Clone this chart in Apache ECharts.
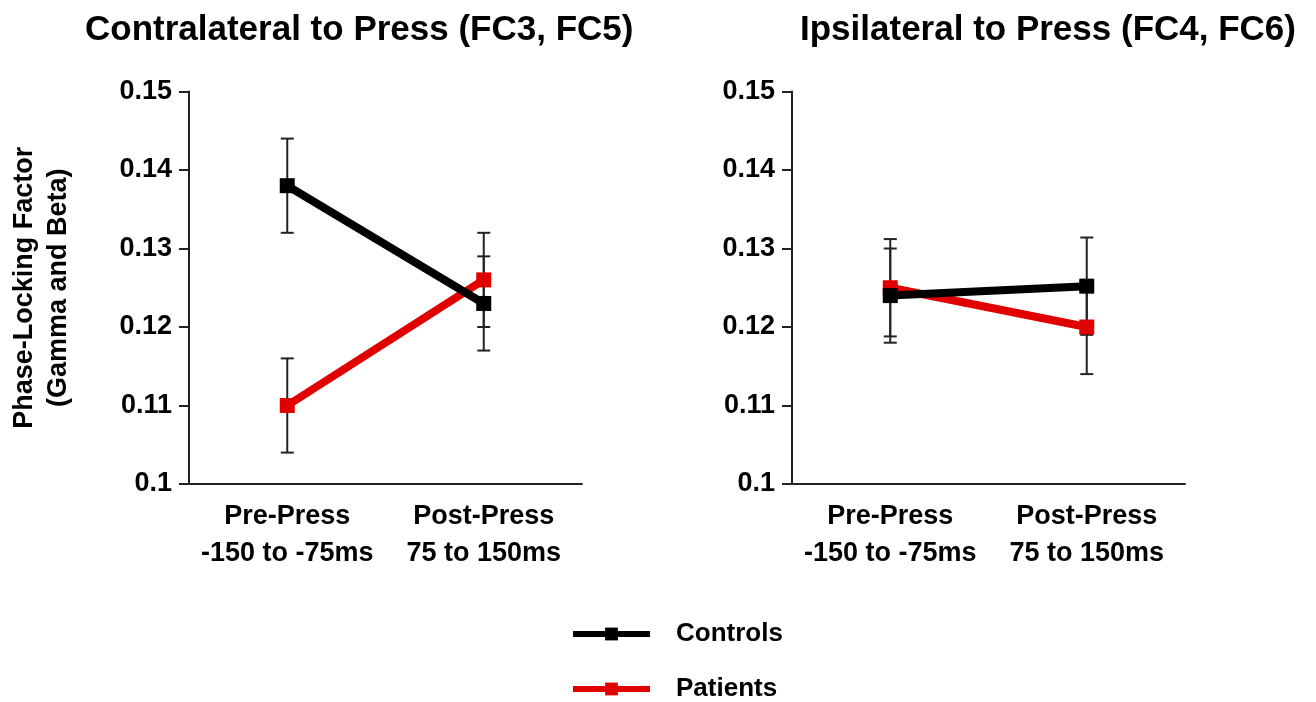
<!DOCTYPE html>
<html>
<head>
<meta charset="utf-8">
<script src="https://cdn.jsdelivr.net/npm/echarts@6/dist/echarts.min.js"></script>
<style>
  html, body { margin: 0; padding: 0; background: #fff; }
  #chart { width: 1316px; height: 702px; }
</style>
</head>
<body>
<div id="chart"></div>
<script>
// ---- Data ----
const categories = ['Pre-Press\n-150 to -75ms', 'Post-Press\n75 to 150ms'];
const yTicks = [0.1, 0.11, 0.12, 0.13, 0.14, 0.15];
const seriesNames = ['Controls', 'Patients'];
const panelTitles = ['Contralateral to Press (FC3, FC5)', 'Ipsilateral to Press (FC4, FC6)'];
const yAxisTitle = 'Phase-Locking Factor\n(Gamma and Beta)';

const contraControls = [0.138, 0.123];
const contraControlsErr = [0.006, 0.006];
const contraPatients = [0.110, 0.126];
const contraPatientsErr = [0.006, 0.006];

const ipsiControls = [0.124, 0.1252];
const ipsiControlsErr = [0.006, 0.0062];
const ipsiPatients = [0.125, 0.120];
const ipsiPatientsErr = [0.0062, 0.006];

// ---- Style ----
const FONT = "'Liberation Sans', Arial, sans-serif";
const BLACK = '#000000';
const RED = '#e00000';
const AXIS = '#222222';

function errData(vals, errs) {
  return vals.map((v, i) => [i, v - errs[i], v + errs[i]]);
}

function renderErr(params, api) {
  const x = api.value(0);
  const lo = api.coord([x, api.value(1)]);
  const hi = api.coord([x, api.value(2)]);
  const hw = 6.5;
  const st = { stroke: AXIS, lineWidth: 2 };
  return {
    type: 'group',
    children: [
      { type: 'line', shape: { x1: lo[0], y1: lo[1], x2: hi[0], y2: hi[1] }, style: st },
      { type: 'line', shape: { x1: lo[0] - hw, y1: lo[1], x2: lo[0] + hw, y2: lo[1] }, style: st },
      { type: 'line', shape: { x1: hi[0] - hw, y1: hi[1], x2: hi[0] + hw, y2: hi[1] }, style: st }
    ]
  };
}

function xAxisCfg(gridIndex) {
  return {
    type: 'category', gridIndex, data: categories, boundaryGap: true,
    axisLine: { lineStyle: { color: AXIS, width: 2 } },
    axisTick: { alignWithLabel: true, length: 10, lineStyle: { color: AXIS, width: 2 } },
    axisLabel: { interval: 0, hideOverlap: false, color: '#000', fontFamily: FONT, fontWeight: 'bold', fontSize: 27, lineHeight: 37, margin: 14 },
    splitLine: { show: false }
  };
}
function yAxisCfg(gridIndex, withName) {
  return {
    type: 'value', gridIndex, min: yTicks[0], max: yTicks[yTicks.length - 1], interval: 0.01,
    axisLine: { show: true, lineStyle: { color: AXIS, width: 2 } },
    axisTick: { show: true, length: 10, lineStyle: { color: AXIS, width: 2 } },
    axisLabel: { color: '#000', fontFamily: FONT, fontWeight: 'bold', fontSize: 27, margin: 17,
      formatter: v => String(parseFloat(v.toFixed(2))) },
    splitLine: { show: false },
    name: withName ? yAxisTitle : '',
    nameLocation: 'middle', nameRotate: 90, nameGap: 113,
    nameTextStyle: { color: '#000', fontFamily: FONT, fontWeight: 'bold', fontSize: 27, lineHeight: 34 }
  };
}

function lineSeries(name, data, color, idx, z) {
  return {
    name, type: 'line', xAxisIndex: idx, yAxisIndex: idx, data,
    symbol: 'rect', symbolSize: 15,
    lineStyle: { color, width: 8 }, itemStyle: { color },
    z, animation: false
  };
}
function errSeries(vals, errs, idx) {
  return {
    type: 'custom', xAxisIndex: idx, yAxisIndex: idx, renderItem: renderErr,
    data: errData(vals, errs), z: 1, silent: true, animation: false
  };
}
function legendCfg(name, top) {
  return {
    data: [name], orient: 'vertical', left: 570, top, padding: 0,
    itemWidth: 77, itemHeight: 16,
    lineStyle: { width: 6 },
    textStyle: { fontFamily: FONT, fontWeight: 'bold', fontSize: 26, color: '#000', padding: [0, 0, 0, 21] }
  };
}

const option = {
  backgroundColor: '#fff',
  animation: false,
  title: [
    { text: panelTitles[0], left: 80, top: 8, textStyle: { fontFamily: FONT, fontWeight: 'bold', fontSize: 35, color: '#000' } },
    { text: panelTitles[1], left: 795, top: 8, textStyle: { fontFamily: FONT, fontWeight: 'bold', fontSize: 35, color: '#000' } }
  ],
  grid: [
    { left: 189, top: 91.5, width: 393, height: 392.5, outerBoundsMode: 'none', containLabel: false },
    { left: 792, top: 91.5, width: 393, height: 392.5, outerBoundsMode: 'none', containLabel: false }
  ],
  xAxis: [xAxisCfg(0), xAxisCfg(1)],
  yAxis: [yAxisCfg(0, true), yAxisCfg(1, false)],
  legend: [legendCfg(seriesNames[0], 621), legendCfg(seriesNames[1], 676)],
  series: [
    errSeries(contraPatients, contraPatientsErr, 0),
    errSeries(contraControls, contraControlsErr, 0),
    errSeries(ipsiPatients, ipsiPatientsErr, 1),
    errSeries(ipsiControls, ipsiControlsErr, 1),
    lineSeries(seriesNames[1], contraPatients, RED, 0, 2),
    lineSeries(seriesNames[0], contraControls, BLACK, 0, 3),
    lineSeries(seriesNames[1], ipsiPatients, RED, 1, 2),
    lineSeries(seriesNames[0], ipsiControls, BLACK, 1, 3)
  ]
};

const chart = echarts.init(document.getElementById('chart'), null, { renderer: 'canvas' });
chart.setOption(option);
</script>
</body>
</html>
